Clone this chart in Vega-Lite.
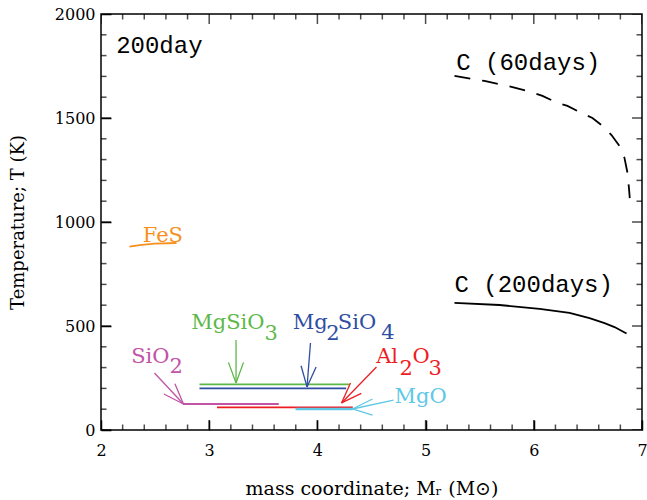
{
  "$schema": "https://vega.github.io/schema/vega-lite/v6.json",
  "width": 541,
  "height": 416,
  "autosize": "none",
  "padding": {"left": 101, "top": 14, "right": 5, "bottom": 70},
  "background": "white",
  "config": {
    "view": {"stroke": "black", "strokeWidth": 1.5, "fill": "transparent"},
    "axis": {
      "grid": false,
      "domain": false,
      "tickColor": "black",
      "tickWidth": 1.5,
      "labelFont": "DejaVu Serif",
      "labelFontSize": 16,
      "labelColor": "black",
      "titleFont": "DejaVu Serif",
      "titleFontWeight": "normal",
      "titleColor": "black",
      "labelFlush": false,
      "labelOverlap": false
    }
  },
  "datasets": {
    "xticks": [
      {"x": 2, "kind": "major"}, {"x": 2.2, "kind": "minor"}, {"x": 2.4, "kind": "minor"}, {"x": 2.6, "kind": "minor"}, {"x": 2.8, "kind": "minor"},
      {"x": 3, "kind": "major"}, {"x": 3.2, "kind": "minor"}, {"x": 3.4, "kind": "minor"}, {"x": 3.6, "kind": "minor"}, {"x": 3.8, "kind": "minor"},
      {"x": 4, "kind": "major"}, {"x": 4.2, "kind": "minor"}, {"x": 4.4, "kind": "minor"}, {"x": 4.6, "kind": "minor"}, {"x": 4.8, "kind": "minor"},
      {"x": 5, "kind": "major"}, {"x": 5.2, "kind": "minor"}, {"x": 5.4, "kind": "minor"}, {"x": 5.6, "kind": "minor"}, {"x": 5.8, "kind": "minor"},
      {"x": 6, "kind": "major"}, {"x": 6.2, "kind": "minor"}, {"x": 6.4, "kind": "minor"}, {"x": 6.6, "kind": "minor"}, {"x": 6.8, "kind": "minor"},
      {"x": 7, "kind": "major"}
    ],
    "yticks": [
      {"y": 0, "kind": "major"}, {"y": 100, "kind": "minor"}, {"y": 200, "kind": "minor"}, {"y": 300, "kind": "minor"}, {"y": 400, "kind": "minor"},
      {"y": 500, "kind": "major"}, {"y": 600, "kind": "minor"}, {"y": 700, "kind": "minor"}, {"y": 800, "kind": "minor"}, {"y": 900, "kind": "minor"},
      {"y": 1000, "kind": "major"}, {"y": 1100, "kind": "minor"}, {"y": 1200, "kind": "minor"}, {"y": 1300, "kind": "minor"}, {"y": 1400, "kind": "minor"},
      {"y": 1500, "kind": "major"}, {"y": 1600, "kind": "minor"}, {"y": 1700, "kind": "minor"}, {"y": 1800, "kind": "minor"}, {"y": 1900, "kind": "minor"},
      {"y": 2000, "kind": "major"}
    ],
    "curves": [
      {"series": "C200", "x": 5.267, "y": 611},
      {"series": "C200", "x": 5.683, "y": 601},
      {"series": "C200", "x": 6.053, "y": 582},
      {"series": "C200", "x": 6.330, "y": 563},
      {"series": "C200", "x": 6.515, "y": 538},
      {"series": "C200", "x": 6.654, "y": 514},
      {"series": "C200", "x": 6.746, "y": 495},
      {"series": "C200", "x": 6.857, "y": 464},
      {"series": "C60", "x": 5.267, "y": 1702},
      {"series": "C60", "x": 5.544, "y": 1678},
      {"series": "C60", "x": 5.803, "y": 1649},
      {"series": "C60", "x": 5.942, "y": 1630},
      {"series": "C60", "x": 6.080, "y": 1606},
      {"series": "C60", "x": 6.200, "y": 1577},
      {"series": "C60", "x": 6.311, "y": 1558},
      {"series": "C60", "x": 6.441, "y": 1524},
      {"series": "C60", "x": 6.542, "y": 1500},
      {"series": "C60", "x": 6.635, "y": 1462},
      {"series": "C60", "x": 6.718, "y": 1418},
      {"series": "C60", "x": 6.792, "y": 1365},
      {"series": "C60", "x": 6.838, "y": 1308},
      {"series": "C60", "x": 6.866, "y": 1236},
      {"series": "C60", "x": 6.880, "y": 1159},
      {"series": "C60", "x": 6.887, "y": 1115},
      {"series": "FeS", "x": 2.263, "y": 882},
      {"series": "FeS", "x": 2.356, "y": 889},
      {"series": "FeS", "x": 2.494, "y": 896},
      {"series": "FeS", "x": 2.698, "y": 899},
      {"series": "SiO2", "x": 2.758, "y": 125},
      {"series": "SiO2", "x": 3.643, "y": 125},
      {"series": "MgSiO3", "x": 2.910, "y": 219},
      {"series": "MgSiO3", "x": 4.297, "y": 219},
      {"series": "Mg2SiO4", "x": 2.910, "y": 200},
      {"series": "Mg2SiO4", "x": 4.266, "y": 200},
      {"series": "Al2O3", "x": 3.072, "y": 109},
      {"series": "Al2O3", "x": 4.327, "y": 109},
      {"series": "MgO", "x": 3.798, "y": 101},
      {"series": "MgO", "x": 4.327, "y": 101}
    ],
    "arrows": [
      {"series": "MgSiO3", "x": 3.248, "y": 433, "x2": 3.248, "y2": 226},
      {"series": "MgSiO3", "x": 3.248, "y": 226, "x2": 3.178, "y2": 325},
      {"series": "MgSiO3", "x": 3.248, "y": 226, "x2": 3.317, "y2": 325},
      {"series": "Mg2SiO4", "x": 3.936, "y": 418, "x2": 3.904, "y2": 207},
      {"series": "Mg2SiO4", "x": 3.904, "y": 207, "x2": 3.988, "y2": 303},
      {"series": "Mg2SiO4", "x": 3.904, "y": 207, "x2": 3.849, "y2": 309},
      {"series": "SiO2", "x": 2.494, "y": 274, "x2": 2.762, "y2": 125},
      {"series": "SiO2", "x": 2.762, "y": 125, "x2": 2.683, "y2": 222},
      {"series": "SiO2", "x": 2.762, "y": 125, "x2": 2.581, "y2": 173},
      {"series": "Al2O3", "x": 4.546, "y": 303, "x2": 4.223, "y2": 130},
      {"series": "Al2O3", "x": 4.223, "y": 130, "x2": 4.406, "y2": 176},
      {"series": "Al2O3", "x": 4.223, "y": 130, "x2": 4.306, "y2": 226},
      {"series": "MgO", "x": 4.703, "y": 144, "x2": 4.324, "y2": 101},
      {"series": "MgO", "x": 4.324, "y": 101, "x2": 4.509, "y2": 149},
      {"series": "MgO", "x": 4.324, "y": 101, "x2": 4.509, "y2": 72}
    ],
    "notes": [
      {"series": "note", "text": "200day", "x": 2.140, "y": 1811},
      {"series": "note", "text": "C (60days)", "x": 5.283, "y": 1731},
      {"series": "note", "text": "C (200days)", "x": 5.267, "y": 665}
    ],
    "labels": [
      {"series": "FeS", "text": "FeS", "x": 2.386, "y": 905},
      {"series": "MgSiO3", "text": "MgSiO", "x": 2.834, "y": 485},
      {"series": "MgSiO3", "text": "3", "x": 3.511, "y": 432},
      {"series": "Mg2SiO4", "text": "Mg", "x": 3.773, "y": 485},
      {"series": "Mg2SiO4", "text": "2", "x": 4.081, "y": 433},
      {"series": "Mg2SiO4", "text": "SiO", "x": 4.189, "y": 485},
      {"series": "Mg2SiO4", "text": "4", "x": 4.590, "y": 436},
      {"series": "SiO2", "text": "SiO", "x": 2.279, "y": 321},
      {"series": "SiO2", "text": "2", "x": 2.633, "y": 273},
      {"series": "Al2O3", "text": "Al", "x": 4.543, "y": 321},
      {"series": "Al2O3", "text": "2", "x": 4.759, "y": 266},
      {"series": "Al2O3", "text": "O", "x": 4.879, "y": 321},
      {"series": "Al2O3", "text": "3", "x": 5.027, "y": 266},
      {"series": "MgO", "text": "MgO", "x": 4.713, "y": 128}
    ]
  },
  "layer": [
    {
      "data": {"name": "curves"},
      "transform": [{"filter": "datum.series !== 'C60' && datum.series !== 'MgO'"}],
      "mark": {"type": "line", "strokeWidth": 1.8},
      "encoding": {
        "x": {
          "field": "x", "type": "quantitative",
          "scale": {"domain": [2, 7], "nice": false, "zero": false},
          "axis": {
            "orient": "bottom",
            "values": [2, 3, 4, 5, 6, 7],
            "format": "d",
            "offset": -10,
            "tickSize": 10,
            "labelPadding": 12,
            "title": "mass coordinate; Mᵣ (M⊙)",
            "titleFontSize": 19,
            "titlePadding": 21
          }
        },
        "y": {
          "field": "y", "type": "quantitative",
          "scale": {"domain": [0, 2000], "nice": false, "zero": false},
          "axis": {
            "orient": "left",
            "values": [0, 500, 1000, 1500, 2000],
            "format": "d",
            "offset": -10,
            "tickSize": 10,
            "labelPadding": 6,
            "title": "Temperature; T (K)",
            "titleFontSize": 18,
            "titlePadding": 27
          }
        },
        "color": {
          "field": "series", "type": "nominal", "legend": null,
          "scale": {
            "domain": ["C200", "C60", "note", "FeS", "SiO2", "MgSiO3", "Mg2SiO4", "Al2O3", "MgO"],
            "range": ["#000000", "#000000", "#000000", "#F7901E", "#C154A5", "#5DB84A", "#2F4EA1", "#EE1D23", "#5EC8E5"]
          }
        }
      }
    },
    {
      "data": {"name": "curves"},
      "transform": [{"filter": "datum.series === 'C60'"}],
      "mark": {"type": "line", "strokeWidth": 1.8, "strokeDash": [16, 12]},
      "encoding": {
        "x": {"field": "x", "type": "quantitative"},
        "y": {"field": "y", "type": "quantitative"},
        "color": {"field": "series", "type": "nominal", "legend": null}
      }
    },
    {
      "data": {"name": "curves"},
      "transform": [{"filter": "datum.series === 'MgO'"}],
      "mark": {"type": "line", "strokeWidth": 2.6},
      "encoding": {
        "x": {"field": "x", "type": "quantitative"},
        "y": {"field": "y", "type": "quantitative"},
        "color": {"field": "series", "type": "nominal", "legend": null}
      }
    },
    {
      "data": {"name": "arrows"},
      "mark": {"type": "rule", "strokeWidth": 1.3},
      "encoding": {
        "x": {"field": "x", "type": "quantitative"},
        "y": {"field": "y", "type": "quantitative"},
        "x2": {"field": "x2"},
        "y2": {"field": "y2"},
        "color": {"field": "series", "type": "nominal", "legend": null}
      }
    },
    {
      "data": {"name": "xticks"},
      "mark": {"type": "tick", "orient": "vertical", "thickness": 1.5, "color": "black", "clip": true},
      "encoding": {
        "x": {"field": "x", "type": "quantitative"},
        "y": {"datum": 0, "type": "quantitative"},
        "size": {"field": "kind", "type": "nominal", "legend": null, "scale": {"domain": ["major", "minor"], "range": [20, 11]}}
      }
    },
    {
      "data": {"name": "xticks"},
      "mark": {"type": "tick", "orient": "vertical", "thickness": 1.5, "color": "black", "clip": true},
      "encoding": {
        "x": {"field": "x", "type": "quantitative"},
        "y": {"datum": 2000, "type": "quantitative"},
        "size": {"field": "kind", "type": "nominal", "legend": null, "scale": {"domain": ["major", "minor"], "range": [20, 11]}}
      }
    },
    {
      "data": {"name": "yticks"},
      "mark": {"type": "tick", "orient": "horizontal", "thickness": 1.5, "color": "black", "clip": true},
      "encoding": {
        "y": {"field": "y", "type": "quantitative"},
        "x": {"datum": 2, "type": "quantitative"},
        "size": {"field": "kind", "type": "nominal", "legend": null, "scale": {"domain": ["major", "minor"], "range": [20, 11]}}
      }
    },
    {
      "data": {"name": "yticks"},
      "mark": {"type": "tick", "orient": "horizontal", "thickness": 1.5, "color": "black", "clip": true},
      "encoding": {
        "y": {"field": "y", "type": "quantitative"},
        "x": {"datum": 7, "type": "quantitative"},
        "size": {"field": "kind", "type": "nominal", "legend": null, "scale": {"domain": ["major", "minor"], "range": [20, 11]}}
      }
    },
    {
      "data": {"name": "notes"},
      "mark": {"type": "text", "font": "Liberation Mono", "fontSize": 24, "align": "left", "baseline": "alphabetic"},
      "encoding": {
        "x": {"field": "x", "type": "quantitative"},
        "y": {"field": "y", "type": "quantitative"},
        "text": {"field": "text"},
        "color": {"field": "series", "type": "nominal", "legend": null}
      }
    },
    {
      "data": {"name": "labels"},
      "mark": {"type": "text", "font": "DejaVu Serif", "fontSize": 21, "align": "left", "baseline": "alphabetic"},
      "encoding": {
        "x": {"field": "x", "type": "quantitative"},
        "y": {"field": "y", "type": "quantitative"},
        "text": {"field": "text"},
        "color": {"field": "series", "type": "nominal", "legend": null}
      }
    }
  ]
}
